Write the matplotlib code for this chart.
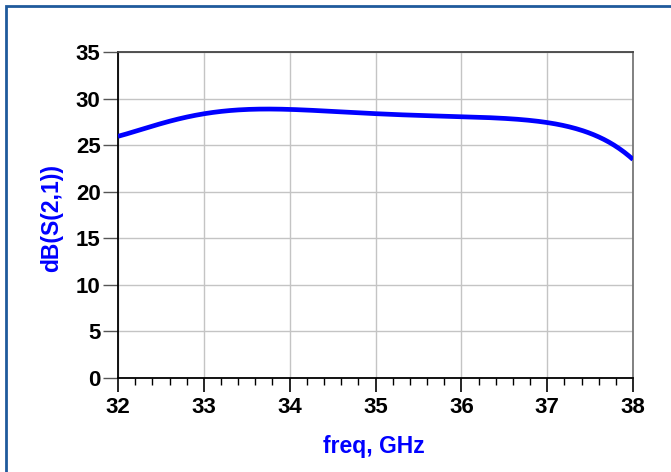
import numpy as np
import matplotlib.pyplot as plt
from matplotlib.patches import Rectangle
from matplotlib.ticker import MultipleLocator
from numpy.polynomial import polynomial as P

# dB(S(2,1))
freq = [32.0, 32.5, 33.0, 33.5, 33.9, 34.5, 35.0, 35.5, 36.0, 36.5, 37.0, 37.25, 37.5, 37.75, 38.0]
s21 = [25.95, 27.3, 28.4, 28.78, 28.88, 28.65, 28.35, 28.2, 28.05, 27.88, 27.45, 26.95, 26.25, 25.2, 23.45]

xticks = [32, 33, 34, 35, 36, 37, 38]
yticks = [0, 5, 10, 15, 20, 25, 30, 35]

plt.rcParams['font.family'] = ['Liberation Sans', 'DejaVu Sans']

fig = plt.figure(figsize=(6.71, 4.72), dpi=100)
W, H = 671, 472
ax = fig.add_axes([118 / W, 1 - 378 / H, (633 - 118) / W, (378 - 52) / H])

# smooth curve through the read points
xs = np.linspace(32, 38, 300)
c = P.polyfit(freq, s21, 7)
ax.plot(xs, P.polyval(xs, c), color='#0000ff', lw=3.4, solid_capstyle='butt', zorder=3)

ax.set_xlim(32, 38)
ax.set_ylim(0, 35)
ax.set_xticks(xticks)
ax.set_yticks(yticks)
ax.xaxis.set_minor_locator(MultipleLocator(0.2))
ax.grid(True, which='major', color='#c4c4c4', lw=1.0)

ax.tick_params(axis='x', which='major', direction='out', length=10, width=1.2,
               color='black', labelsize=16, pad=4)
ax.tick_params(axis='x', which='minor', direction='out', length=5, width=1.0, color='black')
ax.tick_params(axis='y', which='major', direction='out', length=10.5, width=1.0,
               color='#555555', labelsize=16, pad=2)
for lab in ax.get_xticklabels() + ax.get_yticklabels():
    lab.set_fontweight('bold')

ax.spines['left'].set_color('black')
ax.spines['bottom'].set_color('black')
ax.spines['top'].set_color('#444444')
ax.spines['right'].set_color('#777777')
for s in ax.spines.values():
    s.set_linewidth(1.3)

ax.set_xlabel('freq, GHz', color='#0000ff', fontsize=16.5, fontweight='bold', va='center')
ax.set_ylabel('dB(S(2,1))', color='#0000ff', fontsize=16.5, fontweight='bold', va='center')
ax.xaxis.set_label_coords(0.497, -0.209)
ax.yaxis.set_label_coords(-0.128, 0.49)

# frame around the figure (right/bottom edges fall outside)
fig.patches.append(Rectangle((6 / W, -0.1), 1.2, 1 - 6 / H + 0.1, transform=fig.transFigure,
                             fill=False, edgecolor='#1f5a9c', lw=2.0))

fig.savefig('out.png', dpi=100)
